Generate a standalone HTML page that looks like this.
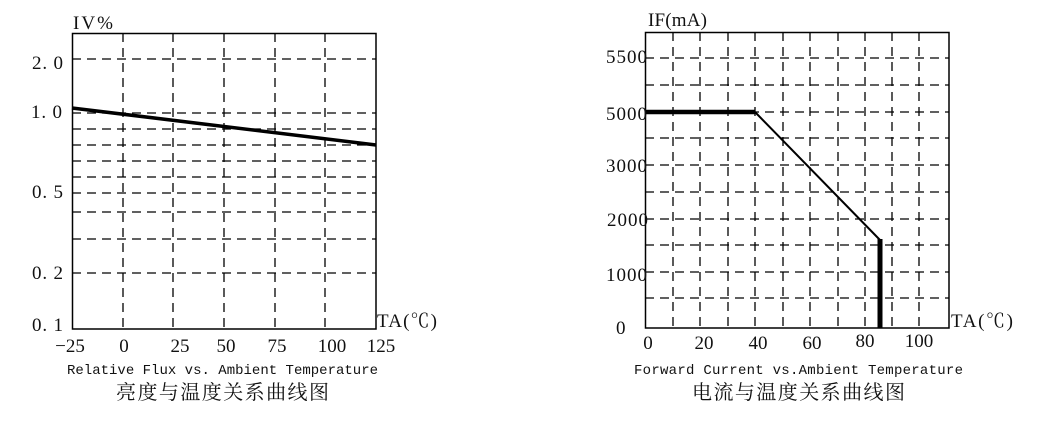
<!DOCTYPE html>
<html><head><meta charset="utf-8"><style>
body{margin:0;background:#fff}
svg{display:block}
text{font-family:"Liberation Serif","Noto Serif CJK SC",serif;fill:#111}
.m{font-family:"Liberation Mono",monospace;font-size:14px}
.c{font-family:"Noto Serif CJK SC","Liberation Serif",serif;font-size:20px}
.t{font-size:19px}
</style></head><body>
<svg width="1054" height="425" viewBox="0 0 1054 425">
<g stroke="#000" stroke-width="1.3" stroke-dasharray="9,6" fill="none">
<path d="M123 33V329M173 33V329M224 33V329M275 33V329M325 33V329"/>
<path d="M72 59H376M72 113H376M72 129H376M72 145H376M72 161H376M72 177H376M72 193H376M72 212H376M72 239H376M72 273H376"/>
<path d="M673 32V328M700 32V328M728 32V328M755 32V328M783 32V328M810 32V328M838 32V328M865 32V328M892 32V328M919 32V328"/>
<path d="M645 58H949M645 85H949M645 112H949M645 138H949M645 165H949M645 192H949M645 219H949M645 245H949M645 272H949M645 298H949"/>
</g>
<rect x="72.5" y="33.5" width="303.5" height="295.5" fill="none" stroke="#000" stroke-width="1.5"/>
<rect x="645.5" y="32.5" width="303.5" height="295.5" fill="none" stroke="#000" stroke-width="1.5"/>
<path d="M72 108L376 145" stroke="#000" stroke-width="3.5"/>
<path d="M645 112H755" stroke="#000" stroke-width="4.5"/>
<path d="M755 112L880 240" stroke="#000" stroke-width="2"/>
<path d="M880 239V328" stroke="#000" stroke-width="5"/>
<text x="73" y="29" class="t" textLength="40">IV%</text>
<g class="t">
<text x="32" y="69" textLength="31">2. 0</text>
<text x="31" y="118" textLength="31">1. 0</text>
<text x="32" y="198" textLength="31">0. 5</text>
<text x="32" y="279" textLength="31">0. 2</text>
<text x="32" y="331" textLength="31">0. 1</text>
</g>
<g class="t" text-anchor="middle">
<text x="70" y="352">−25</text><text x="124" y="352">0</text><text x="180" y="352">25</text>
<text x="226" y="352">50</text><text x="277" y="352">75</text><text x="332" y="352">100</text><text x="381" y="352">125</text>
</g>
<text x="377" y="327" class="t" textLength="60">TA(℃)</text>
<text x="67" y="374" class="m" textLength="311">Relative Flux vs. Ambient Temperature</text>
<text x="116" y="399" class="c" textLength="213">亮度与温度关系曲线图</text>
<text x="648" y="26" class="t" textLength="59">IF(mA)</text>
<g class="t">
<text x="606" y="63" textLength="41">5500</text><text x="606" y="120" textLength="41">5000</text><text x="606" y="172" textLength="41">3000</text>
<text x="607" y="226" textLength="41">2000</text><text x="606" y="281" textLength="41">1000</text><text x="616" y="334">0</text>
</g>
<g class="t" text-anchor="middle">
<text x="648" y="349">0</text><text x="704" y="349">20</text><text x="758" y="349">40</text>
<text x="812" y="349">60</text><text x="865" y="347">80</text><text x="919" y="347">100</text>
</g>
<text x="951" y="327" class="t" textLength="62">TA(℃)</text>
<text x="634" y="374" class="m" textLength="329">Forward Current vs.Ambient Temperature</text>
<text x="692" y="399" class="c" textLength="213">电流与温度关系曲线图</text>
</svg>
</body></html>
